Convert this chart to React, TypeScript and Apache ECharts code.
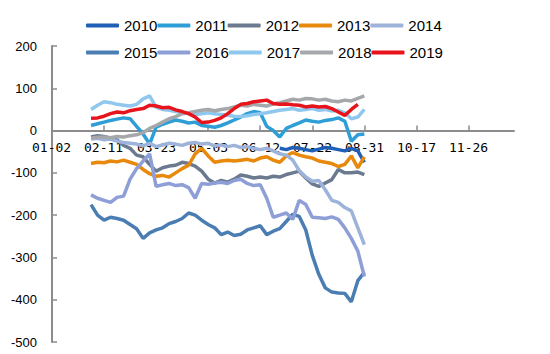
import React, { useEffect, useRef } from "react";
import * as echarts from "echarts";

const categories = [
  "01-02","01-07","01-12","01-17","01-22","01-27","02-01","02-06",
  "02-11","02-16","02-21","02-26","03-03","03-08","03-13","03-18",
  "03-23","03-28","04-02","04-07","04-12","04-17","04-22","04-27",
  "05-03","05-08","05-13","05-18","05-23","05-28","06-02","06-07",
  "06-12","06-17","06-22","06-27","07-02","07-07","07-12","07-17",
  "07-22","07-27","08-01","08-06","08-11","08-16","08-21","08-26",
  "08-31","09-05","09-10","09-15","09-20","09-25","09-30","10-12",
  "10-17","10-22","10-27","11-01","11-06","11-11","11-16","11-21",
  "11-26","12-01","12-06","12-11","12-16","12-21","12-26","12-31",
];
const xTickLabels = ["01-02","02-11","03-23","05-03","06-12","07-22","08-31","10-17","11-26"];

const names = ["2010","2011","2012","2013","2014","2015","2016","2017","2018","2019"];
const colors = ["#1F5FB5","#2E9FD6","#6B7A8F","#E8890C","#9DB3DA","#4A7EB3","#8E9FD8","#8FC7EE","#A5A7AB","#E8141B"];

// values start at the given category index
const start2010 = 35;
const v2010 = [-42,-45,-40,-42,-45,-48,-44,-40,-42,-45,-48,-42,-48,-75];
const start2011 = 6;
const v2011 = [12,16,20,24,27,30,28,10,-8,-32,8,15,20,25,22,18,20,12,10,8,12,18,25,32,40,45,42,10,0,-15,5,12,18,25,22,20,24,26,30,22,-25,-10,-8];
const start2012 = 6;
const v2012 = [-15,-12,-14,-18,-22,-35,-42,-58,-62,-80,-96,-88,-84,-82,-75,-78,-84,-96,-115,-124,-118,-122,-115,-105,-108,-112,-110,-112,-108,-110,-104,-100,-96,-112,-126,-132,-124,-116,-92,-100,-100,-98,-104];
const start2013 = 6;
const v2013 = [-78,-75,-76,-72,-74,-70,-75,-80,-92,-102,-108,-106,-110,-100,-90,-82,-55,-42,-60,-75,-72,-70,-72,-70,-68,-72,-65,-62,-70,-75,-60,-52,-58,-62,-65,-72,-75,-78,-85,-80,-60,-88,-62];
const start2014 = 6;
const v2014 = [-20,-18,-22,-20,-25,-28,-30,-32,-36,-30,-38,-34,-30,-32,-35,-30,-28,-32,-30,-36,-34,-38,-35,-40,-38,-42,-45,-42,-48,-55,-58,-70,-95,-110,-120,-118,-140,-165,-170,-182,-190,-230,-270];
const start2015 = 6;
const v2015 = [-175,-200,-212,-205,-208,-212,-222,-232,-255,-242,-235,-230,-220,-215,-208,-195,-200,-212,-222,-230,-246,-240,-248,-245,-235,-230,-225,-246,-238,-232,-215,-198,-203,-235,-295,-340,-372,-382,-384,-385,-405,-355,-335];
const start2016 = 6;
const v2016 = [-152,-160,-165,-170,-158,-155,-115,-90,-72,-55,-132,-128,-125,-130,-128,-135,-160,-125,-127,-124,-122,-125,-118,-115,-125,-130,-128,-160,-205,-200,-195,-210,-165,-175,-205,-206,-208,-204,-210,-230,-255,-285,-345];
const start2017 = 6;
const v2017 = [50,60,68,66,62,60,58,62,75,82,55,50,48,45,43,40,38,40,42,40,38,36,34,33,35,38,40,42,45,48,50,52,48,50,52,48,50,46,48,42,28,32,50];
const start2018 = 6;
const v2018 = [-18,-16,-15,-17,-14,-15,-12,-10,-5,5,12,20,28,33,40,42,45,48,50,47,50,52,56,60,58,62,60,58,63,66,70,74,72,76,75,72,74,70,68,72,70,76,82];
const start2019 = 6;
const v2019 = [29,30,34,40,44,42,47,50,52,60,58,54,55,49,45,40,32,19,20,24,30,40,52,62,64,68,70,72,64,62,63,61,60,56,58,56,57,52,44,36,50,62];

const yTicks = { min: -500, max: 200, interval: 100 };

const pad = (start: number, arr: number[]) =>
  (new Array(start).fill(null) as (number | null)[]).concat(arr);

const seriesData = [
  pad(start2010, v2010),
  pad(start2011, v2011),
  pad(start2012, v2012),
  pad(start2013, v2013),
  pad(start2014, v2014),
  pad(start2015, v2015),
  pad(start2016, v2016),
  pad(start2017, v2017),
  pad(start2018, v2018),
  pad(start2019, v2019),
];

const W = 550;
const H = 354;
const GRID = { left: 52, right: 36, top: 46, bottom: 12 };
const X_FONT = 13;
const X_CHAR_W = 0.602 * X_FONT;

export default function App() {
  const ref = useRef<HTMLDivElement>(null);
  useEffect(() => {
    if (!ref.current) return;
    const chart = echarts.init(ref.current, undefined, { renderer: "svg" });
    const gridH = H - GRID.top - GRID.bottom;
    const zeroFromBottom = (gridH * (0 - yTicks.min)) / (yTicks.max - yTicks.min);
    const legendBase = {
      left: 86,
      padding: 0,
      itemWidth: 33,
      itemHeight: 4,
      itemGap: 0,
      icon: "roundRect",
      textStyle: { fontSize: 15, color: "#000", fontFamily: "Liberation Sans" },
    };
    chart.setOption({
      animation: false,
      color: colors,
      legend: [
        { ...legendBase, top: 18, data: names.slice(0, 5) },
        { ...legendBase, top: 45, data: names.slice(5) },
      ],
      grid: { ...GRID, containLabel: false },
      xAxis: {
        type: "category",
        data: categories,
        boundaryGap: false,
        position: "bottom",
        offset: -zeroFromBottom,
        axisLine: { onZero: false, lineStyle: { color: "#8c8c8c", width: 2 } },
        axisTick: { inside: true, interval: 7, length: 5, lineStyle: { color: "#8c8c8c", width: 1.5 } },
        axisLabel: { show: false },
        splitLine: { show: false },
      },
      yAxis: {
        type: "value",
        min: yTicks.min,
        max: yTicks.max,
        interval: yTicks.interval,
        axisLine: { show: true, lineStyle: { color: "#8c8c8c", width: 2 } },
        axisTick: { show: true, inside: true, length: 5, lineStyle: { color: "#8c8c8c", width: 1.5 } },
        axisLabel: { margin: 15, fontSize: 13, color: "#000", fontFamily: "Liberation Sans" },
        splitLine: { show: false },
      },
      series: names.map((n, i) => ({
        name: n,
        type: "line",
        data: seriesData[i],
        showSymbol: false,
        symbol: "none",
        connectNulls: false,
        z: 3,
        lineStyle: { width: 3.5, color: colors[i] },
        itemStyle: { color: colors[i] },
      })),
    });
    // x tick labels placed through the chart's own scales
    const labels = xTickLabels.map((lab) => {
      const idx = categories.indexOf(lab);
      const p = chart.convertToPixel({ gridIndex: 0 }, [idx, 0]) as number[];
      const w = lab.length * X_CHAR_W;
      return {
        type: "text",
        left: Math.round(p[0] - w / 2),
        top: Math.round(p[1] + 10),
        z: 1,
        silent: true,
        style: {
          text: lab,
          fill: "#000",
          fontSize: X_FONT,
          fontFamily: "DejaVu Sans Mono",
        },
      };
    });
    chart.setOption({ graphic: labels });
    return () => chart.dispose();
  }, []);
  return (
    <div
      ref={ref}
      style={{ position: "fixed", left: 0, top: 0, width: W, height: H, background: "#fff" }}
    />
  );
}
